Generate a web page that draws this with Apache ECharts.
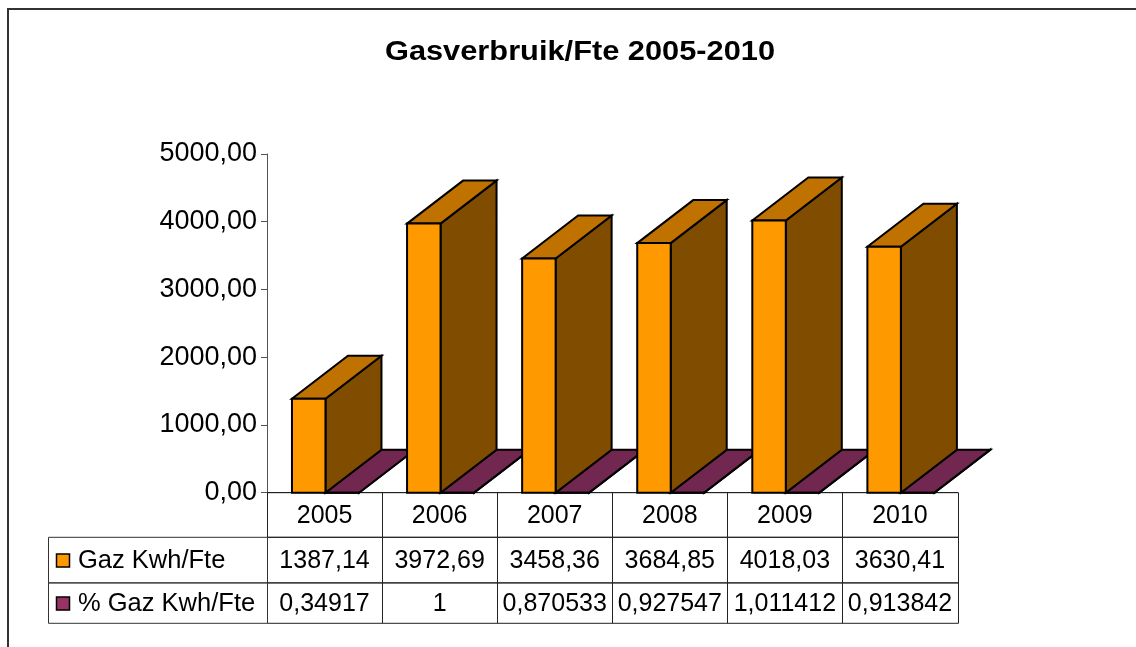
<!DOCTYPE html>
<html>
<head>
<meta charset="utf-8">
<script src="https://cdn.jsdelivr.net/npm/echarts@6/dist/echarts.min.js"></script>
<style>
  html, body { margin: 0; padding: 0; background: #fff; }
  #main { width: 1136px; height: 647px; }
</style>
</head>
<body>
<div id="main"></div>
<script>
// data
const categories = ['2005', '2006', '2007', '2008', '2009', '2010'];
const seriesNames = ['Gaz Kwh/Fte', '% Gaz Kwh/Fte'];
const gazValues = [1387.14, 3972.69, 3458.36, 3684.85, 4018.03, 3630.41];
const pctValues = [0.34917, 1, 0.870533, 0.927547, 1.011412, 0.913842];
const yTicks = [0, 1000, 2000, 3000, 4000, 5000];

const FONT = '"Liberation Sans", Arial, sans-serif';
// front / top / side colours of the 3d columns
const faces = [
  { front: '#FF9900', top: '#C07200', side: '#7F4C00' },
  { front: '#993366', top: '#722750', side: '#4C1933' }
];
const DX = 56, DY = -43; // depth of the boxes

const fmtGaz = v => v.toFixed(2).replace('.', ',');
const fmtPct = v => String(v).replace('.', ',');

function boxRenderer(sIdx) {
  return function (params, api) {
    const i = api.value(0);
    const base = api.coord([i, 0]);
    const top = api.coord([i, api.value(1)]);
    const w = api.size([1, 0])[0];
    const bw = w * 0.291;
    const xl = base[0] - w / 2 + w * 0.217 + sIdx * bw;
    const xr = xl + bw;
    const yb = base[1], yt = top[1];
    const c = faces[sIdx];
    const line = { stroke: '#000', lineWidth: 2 };
    return {
      type: 'group',
      children: [
        { type: 'polygon', shape: { points: [[xr, yt], [xr + DX, yt + DY], [xr + DX, yb + DY], [xr, yb]] },
          style: Object.assign({ fill: c.side }, line) },
        { type: 'polygon', shape: { points: [[xl, yt], [xr, yt], [xr + DX, yt + DY], [xl + DX, yt + DY]] },
          style: Object.assign({ fill: c.top }, line) },
        { type: 'rect', shape: { x: xl, y: yt, width: bw, height: yb - yt },
          style: Object.assign({ fill: c.front }, line) }
      ]
    };
  };
}

// data table under the axis, one column per category
const rowH = [44.6, 45.6, 40.4];
function tableRenderer(params, api) {
  const i = api.value(0);
  const base = api.coord([i, 0]);
  const w = api.size([1, 0])[0];
  const x0 = Math.round(base[0] - w / 2) + 0.5;
  const x1 = Math.round(base[0] + w / 2) + 0.5;
  const texts = [categories[i], fmtGaz(gazValues[i]), fmtPct(pctValues[i])];
  const children = [];
  let y = base[1];
  rowH.forEach((h, r) => {
    children.push({ type: 'rect', shape: { x: x0, y: y, width: x1 - x0, height: h },
      style: { fill: 'transparent', stroke: '#222', lineWidth: 1 } });
    children.push({ type: 'text', style: { text: texts[r], x: base[0], y: y + h / 2 + 1,
      align: 'center', verticalAlign: 'middle', font: '25px ' + FONT, fill: '#000' } });
    if (i === 0 && r > 0) {
      const lx = 48.5;
      children.push({ type: 'rect', shape: { x: lx, y: y, width: x0 - lx, height: h },
        style: { fill: 'transparent', stroke: '#333', lineWidth: 1 } });
      children.push({ type: 'rect', shape: { x: 56.5, y: y + h / 2 - 6, width: 13, height: 13 },
        style: { fill: faces[r - 1].front, stroke: '#000', lineWidth: 1.5 } });
      children.push({ type: 'text', style: { text: seriesNames[r - 1], x: 78, y: y + h / 2 + 1,
        align: 'left', verticalAlign: 'middle', font: '25.5px ' + FONT, fill: '#000' } });
    }
    y += h;
  });
  return { type: 'group', children: children };
}

const chart = echarts.init(document.getElementById('main'));
chart.setOption({
  animation: false,
  backgroundColor: '#fff',
  graphic: [
    { type: 'rect', shape: { x: 8, y: 9, width: 1140, height: 660 },
      style: { fill: 'none', stroke: '#333', lineWidth: 2 }, z: -10 },
    { type: 'text', x: 580, y: 53, scaleX: 1.14,
      style: { text: 'Gasverbruik/Fte 2005-2010', x: 0, y: 0, align: 'center', verticalAlign: 'middle',
        font: 'bold 27px ' + FONT, fill: '#000' } }
  ],
  grid: { left: 267, right: 178.5, top: 154, bottom: 154.3 },
  xAxis: {
    type: 'category',
    data: categories,
    axisLine: { show: true, lineStyle: { color: '#222', width: 1 } },
    axisTick: { show: false },
    axisLabel: { show: false },
    splitLine: { show: false }
  },
  yAxis: {
    type: 'value',
    min: yTicks[0],
    max: yTicks[yTicks.length - 1],
    interval: yTicks[1] - yTicks[0],
    axisLine: { show: true, lineStyle: { color: '#555', width: 1 } },
    axisTick: { show: true, length: 6, lineStyle: { color: '#555' } },
    axisLabel: { margin: 10, fontSize: 27, fontFamily: FONT, color: '#000',
      formatter: v => v.toFixed(2).replace('.', ',') },
    splitLine: { show: false }
  },
  series: [
    { type: 'custom', name: 'table', data: categories.map((c, i) => [i, 0]),
      encode: { x: 0, y: 1 }, renderItem: tableRenderer, z: 1 },
    { type: 'custom', name: seriesNames[1], data: pctValues.map((v, i) => [i, v]),
      encode: { x: 0, y: 1 }, renderItem: boxRenderer(1), z: 2 },
    { type: 'custom', name: seriesNames[0], data: gazValues.map((v, i) => [i, v]),
      encode: { x: 0, y: 1 }, renderItem: boxRenderer(0), z: 3 }
  ]
});
</script>
</body>
</html>
